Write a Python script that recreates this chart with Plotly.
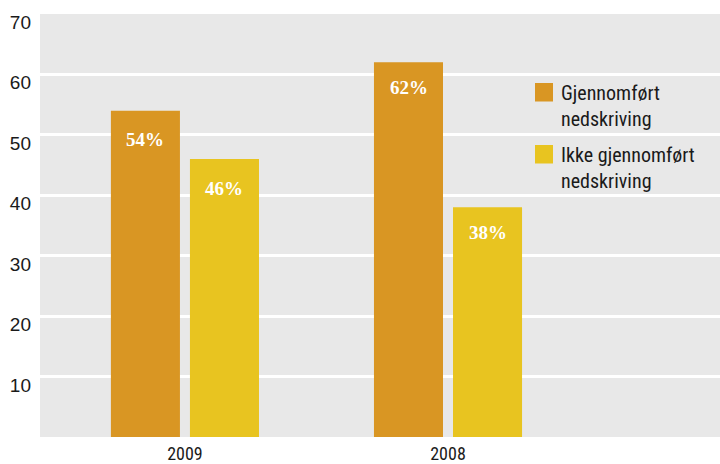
import plotly.graph_objects as go

# Data
years = ["2009", "2008"]
series_names = ["Gjennomført<br>nedskriving", "Ikke gjennomført<br>nedskriving"]
done_pct = [54, 62]
not_done_pct = [46, 38]
y_ticks = [10, 20, 30, 40, 50, 60, 70]

colors = ["#D99623", "#E8C420"]
values = [done_pct, not_done_pct]

W, H = 720, 464
M_L, M_R, M_T, M_B = 40, 0, 14, 27
plot_w = W - M_L - M_R
plot_h = H - M_T - M_B

narrow = "Roboto Condensed, DejaVu Sans Condensed, sans-serif"

fig = go.Figure()
for name, vals, col in zip(series_names, values, colors):
    fig.add_trace(go.Bar(
        x=years, y=vals, name=name,
        marker=dict(color=col, line=dict(width=0)),
        showlegend=False, hoverinfo="skip",
    ))

# Percentage labels inside the bars (x given as category index)
bar_dx = [-39.5, 39.5]
label_dy = [-29, -25.5]
annotations = []
for vals, dx in zip(values, bar_dx):
    for i, v in enumerate(vals):
        annotations.append(dict(
            x=i, y=v, xref="x", yref="y", xshift=dx, yshift=label_dy[i],
            text=f"<b>{v}%</b>", showarrow=False, xanchor="center", yanchor="middle",
            font=dict(family="Liberation Serif, serif", size=19, color="white"),
        ))

# Legend drawn as swatches + text
def px_x(p):
    return (p - M_L) / plot_w

def px_y(p):
    return (H - M_B - p) / plot_h

legend_rows = [(83, 105.5), (145, 167.5)]
shapes = []
for (sq_top, txt_mid), name, col in zip(legend_rows, series_names, colors):
    shapes.append(dict(
        type="rect", xref="paper", yref="paper",
        x0=px_x(535), x1=px_x(553), y0=px_y(sq_top + 18.5), y1=px_y(sq_top),
        fillcolor=col, line=dict(width=0),
    ))
    annotations.append(dict(
        x=px_x(559), y=px_y(txt_mid), xref="paper", yref="paper",
        text=name, showarrow=False, xanchor="left", yanchor="middle", align="left",
        font=dict(family=narrow, size=20, color="#1a1a1a"),
    ))

fig.update_layout(
    width=W, height=H,
    margin=dict(l=M_L, r=M_R, t=M_T, b=M_B),
    paper_bgcolor="white", plot_bgcolor="#E8E8E8",
    barmode="group", bargap=0.399, bargroupgap=0.1266,
    annotations=annotations, shapes=shapes,
    xaxis=dict(
        type="category", range=[-0.551, 2.034], automargin=False,
        showgrid=False, zeroline=False, showline=False, ticks="",
        tickfont=dict(family=narrow, size=18, color="#1a1a1a"),
        ticklabelstandoff=4,
    ),
    yaxis=dict(
        range=[0, 70], tickvals=y_ticks, ticktext=[str(t) for t in y_ticks],
        automargin=False,
        showgrid=True, gridcolor="white", gridwidth=3,
        zeroline=False, showline=False, ticks="",
        ticklabelposition="outside bottom", ticklabelstandoff=8, ticklabelshift=-5,
        tickfont=dict(family="Liberation Sans, Arial, sans-serif", size=19, color="#1a1a1a"),
    ),
)

fig.write_html("out.html")
